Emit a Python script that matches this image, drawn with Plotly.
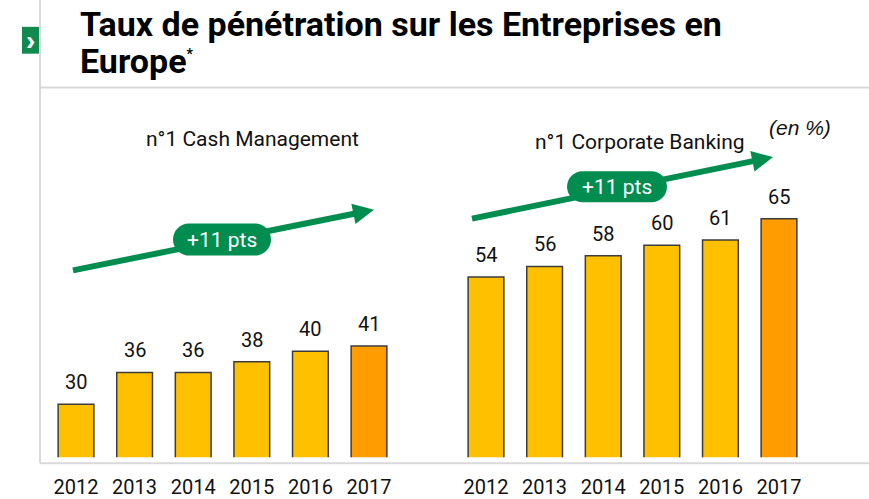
import math
import plotly.graph_objects as go

# ---- data ----
years = ["2012", "2013", "2014", "2015", "2016", "2017"]
cash_mgmt = [30, 36, 36, 38, 40, 41]
corp_banking = [54, 56, 58, 60, 61, 65]
bar_colors = ["#FFC000", "#FFC000", "#FFC000", "#FFC000", "#FFC000", "#FF9C00"]
title_line1 = "Taux de pénétration sur les Entreprises en"
title_line2 = "Europe<sup><span style='font-size:14px'>*</span></sup>"
subtitle_left = "n°1 Cash Management"
subtitle_right = "n°1 Corporate Banking"
unit_label = "(en %)"
growth_label = "+11 pts"

W, H = 869, 499
NARROW = "Roboto, Liberation Sans, Arial, sans-serif"
GREEN = "#008D4F"
GREY = "#D9D9D9"


def px(x):
    return x / W


def py(y):
    return 1 - y / H


fig = go.Figure()

for vals, xa in [(cash_mgmt, "x"), (corp_banking, "x2")]:
    fig.add_trace(go.Bar(
        x=years, y=vals, xaxis=xa, yaxis="y" if xa == "x" else "y2",
        marker=dict(color=bar_colors, line=dict(color="#3C3C3C", width=1.5)),
        width=0.61, showlegend=False, hoverinfo="skip",
    ))

annotations = []
for vals, xr, yr in [(cash_mgmt, "x", "y"), (corp_banking, "x2", "y2")]:
    for i, v in enumerate(vals):
        annotations.append(dict(
            x=i, y=v, xref=xr, yref=yr, text=str(v), showarrow=False,
            xanchor="center", yanchor="bottom", yshift=8,
            font=dict(family=NARROW, size=20, color="#111111"),
        ))

annotations += [
    dict(x=px(78), y=py(24), xref="paper", yref="paper", text=f"<b>{title_line1}</b>",
         showarrow=False, xanchor="left", yanchor="middle",
         font=dict(family=NARROW, size=34, color="#000000")),
    dict(x=px(78), y=py(61), xref="paper", yref="paper", text=f"<b>{title_line2}</b>",
         showarrow=False, xanchor="left", yanchor="middle",
         font=dict(family=NARROW, size=34, color="#000000")),
    dict(x=px(252), y=py(140), xref="paper", yref="paper", text=subtitle_left,
         showarrow=False, xanchor="center", yanchor="middle",
         font=dict(family=NARROW, size=21, color="#111111")),
    dict(x=px(640), y=py(143), xref="paper", yref="paper", text=subtitle_right,
         showarrow=False, xanchor="center", yanchor="middle",
         font=dict(family=NARROW, size=21, color="#111111")),
    dict(x=px(800), y=py(128), xref="paper", yref="paper", text=f"<i>{unit_label}</i>",
         showarrow=False, xanchor="center", yanchor="middle",
         font=dict(family="Liberation Sans, Arial, sans-serif", size=21, color="#111111")),
    dict(x=0.5 * (px(22) + px(39)), y=py(41), xref="paper", yref="paper", text="<b>›</b>",
         showarrow=False, xanchor="center", yanchor="middle",
         font=dict(family="Liberation Sans, Arial, sans-serif", size=28, color="#FFFFFF")),
]

shapes = [
    dict(type="line", xref="paper", yref="paper", x0=px(40), x1=px(40), y0=py(0), y1=py(466),
         line=dict(color=GREY, width=2)),
    dict(type="line", xref="paper", yref="paper", x0=px(40), x1=1, y0=py(88), y1=py(88),
         line=dict(color=GREY, width=2)),
    dict(type="line", xref="paper", yref="paper", x0=px(40), x1=1, y0=py(466), y1=py(466),
         line=dict(color=GREY, width=2)),
    dict(type="rect", xref="paper", yref="paper", x0=px(22), x1=px(39), y0=py(27), y1=py(54),
         fillcolor="#11894F", line=dict(width=0)),
]


def arrow_shapes(tail, tip, head_len=21, head_w=21, lw=6):
    dx, dy = tip[0] - tail[0], tip[1] - tail[1]
    L = math.hypot(dx, dy)
    ux, uy = dx / L, dy / L
    nx, ny = -uy, ux
    bx, by = tip[0] - head_len * ux, tip[1] - head_len * uy
    p1 = (bx + nx * head_w / 2, by + ny * head_w / 2)
    p2 = (bx - nx * head_w / 2, by - ny * head_w / 2)
    return [
        dict(type="line", xref="paper", yref="paper", x0=px(tail[0]), y0=py(tail[1]),
             x1=px(bx + ux * 2), y1=py(by + uy * 2), line=dict(color=GREEN, width=lw)),
        dict(type="path", xref="paper", yref="paper",
             path=f"M {px(tip[0])},{py(tip[1])} L {px(p1[0])},{py(p1[1])} L {px(p2[0])},{py(p2[1])} Z",
             fillcolor=GREEN, line=dict(width=0)),
    ]


def pill(cx, cy, w, h):
    r = h / 2
    k = 0.5523 * r
    x0, x1, y0, y1 = -w / 2, w / 2, -h / 2, h / 2
    path = (f"M {x0 + r},{y0} L {x1 - r},{y0} "
            f"C {x1 - r + k},{y0} {x1},{-k} {x1},0 "
            f"C {x1},{k} {x1 - r + k},{y1} {x1 - r},{y1} "
            f"L {x0 + r},{y1} "
            f"C {x0 + r - k},{y1} {x0},{k} {x0},0 "
            f"C {x0},{-k} {x0 + r - k},{y0} {x0 + r},{y0} Z")
    return dict(type="path", xref="paper", yref="paper", xsizemode="pixel", ysizemode="pixel",
                xanchor=px(cx), yanchor=py(cy), path=path, fillcolor=GREEN, line=dict(width=0))


shapes += arrow_shapes((73, 272), (374, 211))
shapes += arrow_shapes((472, 220), (773, 158))
shapes.append(pill(222, 241, 98, 32))
shapes.append(pill(617, 188, 100, 31))

annotations += [
    dict(x=px(222), y=py(241), xref="paper", yref="paper", text=growth_label, showarrow=False,
         xanchor="center", yanchor="middle",
         font=dict(family=NARROW, size=21, color="#FFFFFF")),
    dict(x=px(617), y=py(188), xref="paper", yref="paper", text=growth_label, showarrow=False,
         xanchor="center", yanchor="middle",
         font=dict(family=NARROW, size=21, color="#FFFFFF")),
]

y_range = [20, 80]
axis_common = dict(type="category", showgrid=False, zeroline=False, showline=False,
                   ticks="outside", ticklen=12, tickcolor="rgba(0,0,0,0)",
                   tickfont=dict(family=NARROW, size=20, color="#111111"),
                   range=[-0.5, 5.5], fixedrange=True)
y_common = dict(range=y_range, showgrid=False, zeroline=False, showline=False,
                showticklabels=False, domain=[py(460), py(140)], fixedrange=True)

fig.update_layout(
    width=W, height=H, margin=dict(l=0, r=0, t=0, b=0),
    paper_bgcolor="white", plot_bgcolor="white",
    xaxis=dict(domain=[px(46.7), px(398.3)], anchor="y", **axis_common),
    xaxis2=dict(domain=[px(456.7), px(808.3)], anchor="y2", **axis_common),
    yaxis=dict(anchor="x", **y_common),
    yaxis2=dict(anchor="x2", **y_common),
    shapes=shapes, annotations=annotations,
)

post = (
    "document.documentElement.style.margin='0';"
    "document.documentElement.style.overflow='hidden';"
    "document.body.style.margin='0';"
    "document.body.style.overflow='hidden';"
    "document.body.style.height='499px';"
    "var gd=document.getElementById('{plot_id}');"
    "if(gd&&gd.parentElement){gd.parentElement.style.height='499px';gd.parentElement.style.overflow='hidden';}"
)

fig.write_html("out.html", config={"displayModeBar": False}, post_script=post)
